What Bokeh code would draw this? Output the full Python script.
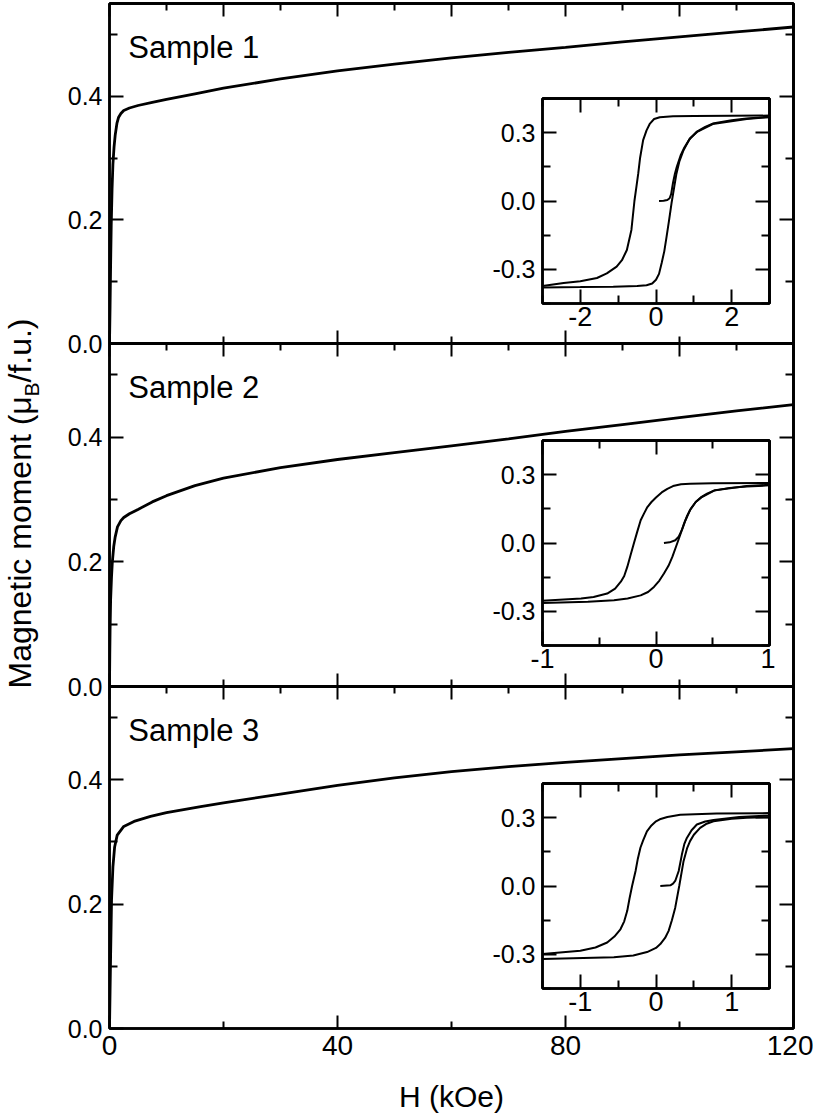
import math
from bokeh.plotting import figure
from bokeh.models import Range1d, FixedTicker, LinearAxis, Label, PrintfTickFormatter
from bokeh.layouts import column
from bokeh.embed import file_html
from bokeh.resources import INLINE

# ---------------- data ----------------
# main panels: H (kOe) vs magnetic moment (muB/f.u.)
H1 = [0, 0.1, 0.2, 0.3, 0.45, 0.6, 0.8, 1.0, 1.3, 1.6, 2.0, 2.5, 3.5, 5, 7.5, 10, 15, 20, 30, 40, 50, 60, 70, 80, 90, 100, 110, 120]
M1 = [0, 0.06, 0.13, 0.19, 0.25, 0.29, 0.318, 0.337, 0.356, 0.366, 0.372, 0.377, 0.381, 0.385, 0.39, 0.395, 0.404, 0.413, 0.428, 0.441, 0.452, 0.462, 0.471, 0.479, 0.488, 0.496, 0.504, 0.512]

H2 = [0, 0.05, 0.1, 0.2, 0.35, 0.5, 0.75, 1.0, 1.4, 2, 2.5, 3.5, 5, 7.5, 10, 15, 20, 30, 40, 50, 60, 70, 80, 90, 100, 110, 120]
M2 = [0, 0.05, 0.09, 0.14, 0.175, 0.2, 0.225, 0.24, 0.256, 0.266, 0.271, 0.277, 0.284, 0.296, 0.306, 0.322, 0.334, 0.351, 0.364, 0.375, 0.386, 0.397, 0.409, 0.42, 0.431, 0.442, 0.452]

H3 = [0, 0.1, 0.2, 0.36, 0.6, 0.9, 1.35, 2.5, 4.3, 7.2, 10, 16, 20, 30, 40, 50, 60, 70, 80, 90, 100, 110, 120]
M3 = [0, 0.06, 0.12, 0.207, 0.26, 0.292, 0.311, 0.325, 0.333, 0.341, 0.347, 0.357, 0.363, 0.377, 0.391, 0.403, 0.413, 0.421, 0.428, 0.434, 0.44, 0.445, 0.45]

# insets: hysteresis loops, H (kOe) vs moment (descending, ascending, virgin)
HD1 = [3.0, 2.0, 1.0, 0.45, 0.1, -0.05, -0.16, -0.25, -0.34, -0.42, -0.47, -0.52, -0.57, -0.65, -0.77, -0.9, -1.04, -1.3, -1.56, -2.0, -2.44, -3.0]
MD1 = [0.375, 0.374, 0.373, 0.372, 0.368, 0.36, 0.34, 0.31, 0.267, 0.19, 0.12, 0.06, 0.0, -0.127, -0.215, -0.26, -0.288, -0.318, -0.338, -0.352, -0.36, -0.373]
HA1 = [-3.0, -2.0, -1.13, -0.5, -0.25, -0.1, 0.0, 0.08, 0.15, 0.22, 0.28, 0.35, 0.41, 0.48, 0.54, 0.62, 0.72, 0.88, 1.07, 1.3, 1.5, 2.0, 2.39, 3.0]
MA1 = [-0.38, -0.378, -0.376, -0.373, -0.37, -0.362, -0.346, -0.32, -0.272, -0.22, -0.156, -0.08, -0.01, 0.06, 0.12, 0.175, 0.22, 0.27, 0.303, 0.325, 0.34, 0.355, 0.362, 0.37]
HV1 = [0.08, 0.2, 0.3, 0.36, 0.4, 0.45, 0.5, 0.55, 0.65, 0.75, 0.9, 1.1, 1.5, 2.4, 3.0]
MV1 = [0.0, 0.001, 0.004, 0.012, 0.03, 0.08, 0.12, 0.15, 0.2, 0.235, 0.275, 0.305, 0.338, 0.36, 0.368]

HD2 = [1.0, 0.5, 0.3, 0.22, 0.15, 0.1, 0.05, 0.0, -0.04, -0.076, -0.105, -0.135, -0.165, -0.194, -0.225, -0.253, -0.28, -0.31, -0.36, -0.43, -0.55, -0.66, -1.0]
MD2 = [0.263, 0.262, 0.26, 0.258, 0.25, 0.238, 0.222, 0.2, 0.18, 0.158, 0.13, 0.1, 0.05, 0.0, -0.055, -0.105, -0.145, -0.17, -0.2, -0.222, -0.237, -0.244, -0.254]
HA2 = [-1.0, -0.6, -0.37, -0.25, -0.135, -0.07, -0.018, 0.03, 0.07, 0.11, 0.144, 0.188, 0.22, 0.247, 0.275, 0.306, 0.35, 0.394, 0.45, 0.51, 0.65, 0.8, 1.0]
MA2 = [-0.263, -0.258, -0.251, -0.244, -0.23, -0.215, -0.193, -0.165, -0.134, -0.1, -0.061, 0.0, 0.045, 0.085, 0.12, 0.15, 0.18, 0.2, 0.217, 0.23, 0.242, 0.248, 0.253]
HV2 = [0.07, 0.12, 0.17, 0.2, 0.23, 0.26, 0.3, 0.35, 0.4, 0.52, 0.8, 1.0]
MV2 = [0.0, 0.003, 0.012, 0.028, 0.06, 0.1, 0.145, 0.18, 0.2, 0.232, 0.25, 0.256]

HD3 = [1.5, 0.8, 0.32, 0.15, 0.05, 0.0, -0.06, -0.12, -0.17, -0.206, -0.24, -0.27, -0.316, -0.35, -0.38, -0.42, -0.47, -0.55, -0.645, -0.8, -1.0, -1.5]
MD3 = [0.32, 0.318, 0.313, 0.303, 0.293, 0.284, 0.266, 0.24, 0.2, 0.168, 0.12, 0.066, 0.0, -0.055, -0.109, -0.155, -0.19, -0.222, -0.248, -0.27, -0.284, -0.299]
HA3 = [-1.5, -0.557, -0.3, -0.118, 0.0, 0.057, 0.12, 0.167, 0.21, 0.254, 0.307, 0.364, 0.41, 0.45, 0.5, 0.583, 0.66, 0.76, 1.0, 1.2, 1.5]
MA3 = [-0.32, -0.313, -0.305, -0.29, -0.272, -0.255, -0.228, -0.197, -0.15, -0.095, 0.0, 0.109, 0.165, 0.197, 0.225, 0.255, 0.272, 0.284, 0.295, 0.3, 0.302]
HV3 = [0.057, 0.19, 0.225, 0.254, 0.3, 0.342, 0.375, 0.408, 0.47, 0.54, 0.65, 0.76, 1.1, 1.5]
MV3 = [0.0, 0.003, 0.01, 0.022, 0.066, 0.138, 0.185, 0.211, 0.245, 0.27, 0.283, 0.29, 0.303, 0.31]

SAMPLE_NAMES = ["Sample 1", "Sample 2", "Sample 3"]
X_LABEL = "H (kOe)"
Y_LABEL_PARTS = ["Magnetic moment (\u03bc", "B", "/f.u.)"]

MAIN_X_MAJOR = [0, 40, 80, 120]
MAIN_X_MINOR = [20, 60, 100]
MAIN_TOP_MAJOR = [0, 20, 40, 60, 80, 100, 120]
MAIN_TOP_MINOR = [10, 30, 50, 70, 90, 110]
MAIN_Y_MAJOR = [0.0, 0.2, 0.4]
MAIN_Y_MINOR = [0.1, 0.3, 0.5]

INSET_Y_MAJOR = [-0.3, 0.0, 0.3]
INSET_Y_MINOR = [-0.45, -0.15, 0.15, 0.45]
INSET_X = [
    ((-3, 3), [-2, 0, 2], [-3, -1, 1, 3]),
    ((-1, 1), [-1, 0, 1], [-0.5, 0.5]),
    ((-1.5, 1.5), [-1, 0, 1], [-1.5, -0.5, 0.5, 1.5]),
]

FONT = "Liberation Sans"


def style_axis(ax, major_in, minor_in, size="0px", standoff=0):
    ax.axis_line_width = 2.5
    ax.axis_line_color = "black"
    ax.major_tick_line_width = 2
    ax.minor_tick_line_width = 2
    ax.major_tick_line_color = "black"
    ax.minor_tick_line_color = "black"
    ax.major_tick_in = major_in
    ax.major_tick_out = 0
    ax.minor_tick_in = minor_in
    ax.minor_tick_out = 0
    ax.major_label_text_font = FONT
    ax.major_label_text_color = "black"
    ax.major_label_text_font_size = size
    ax.major_label_standoff = standoff


def tick_only(p, side, long_ticks, short_ticks, long_in, short_in):
    # unlabelled tick sides: two label-free axes drawn on the same edge
    for ticks, length in ((long_ticks, long_in), (short_ticks, short_in)):
        ax = LinearAxis(ticker=FixedTicker(ticks=[], minor_ticks=ticks))
        style_axis(ax, 0, length)
        p.add_layout(ax, side)


def bare_figure(w, h, xr, yr, ml, mr, mt, mb):
    p = figure(width=w, height=h, x_range=xr, y_range=yr,
               output_backend="svg", toolbar_location=None,
               x_axis_location=None, y_axis_location=None,
               min_border_left=ml, min_border_right=mr,
               min_border_top=mt, min_border_bottom=mb)
    p.background_fill_color = None
    p.border_fill_color = None
    p.grid.visible = False
    return p


def main_panel(H, M, name, mb_top, frame_h, mb_bottom, show_x):
    p = bare_figure(813, mb_top + frame_h + mb_bottom, Range1d(0, 120), Range1d(0, 0.55),
                    109, 20, mb_top, mb_bottom)
    p.outline_line_color = "black"
    p.outline_line_width = 2.5

    left = LinearAxis(ticker=FixedTicker(ticks=MAIN_Y_MAJOR, minor_ticks=MAIN_Y_MINOR),
                      formatter=PrintfTickFormatter(format="%.1f"))
    style_axis(left, 14, 8, "25px", 7)
    p.add_layout(left, "left")
    tick_only(p, "right", MAIN_Y_MAJOR, MAIN_Y_MINOR, 14, 8)
    tick_only(p, "above", MAIN_TOP_MAJOR, MAIN_TOP_MINOR, 13, 7)
    if show_x:
        bottom = LinearAxis(ticker=FixedTicker(ticks=MAIN_X_MAJOR, minor_ticks=MAIN_X_MINOR),
                            formatter=PrintfTickFormatter(format="%d"))
        style_axis(bottom, 13, 7, "28px", 7)
        p.add_layout(bottom, "below")
    else:
        tick_only(p, "below", MAIN_X_MAJOR, MAIN_X_MINOR, 13, 7)

    p.line(H, M, line_color="black", line_width=2.8)
    p.add_layout(Label(x=3.3, y=0.479, text=name, text_font=FONT, text_font_size="31px",
                       text_baseline="alphabetic", text_align="left", text_color="black"))
    return p


def inset_panel(k, branches):
    (x0, x1), xmaj, xmin = INSET_X[k]
    p = bare_figure(60 + 227 + 6, 6 + 205 + 40, Range1d(x0, x1), Range1d(-0.45, 0.45),
                    60, 6, 6, 40)
    p.background_fill_color = "white"
    p.outline_line_color = "black"
    p.outline_line_width = 2.5

    left = LinearAxis(ticker=FixedTicker(ticks=INSET_Y_MAJOR, minor_ticks=INSET_Y_MINOR),
                      formatter=PrintfTickFormatter(format="%.1f"))
    style_axis(left, 14, 8, "25px", 7)
    p.add_layout(left, "left")
    bottom = LinearAxis(ticker=FixedTicker(ticks=xmaj, minor_ticks=xmin),
                        formatter=PrintfTickFormatter(format="%d"))
    style_axis(bottom, 14, 8, "27px", 3)
    p.add_layout(bottom, "below")
    tick_only(p, "right", INSET_Y_MAJOR, INSET_Y_MINOR, 14, 8)
    tick_only(p, "above", xmaj, xmin, 14, 8)

    for hx, my in branches:
        p.line(hx, my, line_color="black", line_width=2)
    return p


# page-sized layer holding the two axis titles (pixel coordinates)
titles = bare_figure(812, 1117, Range1d(0, 812), Range1d(1117, 0), 0, 0, 0, 0)
titles.outline_line_color = None
titles.add_layout(Label(x=19, y=688, text=Y_LABEL_PARTS[0], angle=math.pi / 2,
                        text_font=FONT, text_font_size="32px", text_align="left",
                        text_baseline="alphabetic", text_color="black"))
titles.add_layout(Label(x=31, y=396, text=Y_LABEL_PARTS[1], angle=math.pi / 2,
                        text_font=FONT, text_font_size="21px", text_align="left",
                        text_baseline="alphabetic", text_color="black"))
titles.add_layout(Label(x=19, y=382, text=Y_LABEL_PARTS[2], angle=math.pi / 2,
                        text_font=FONT, text_font_size="32px", text_align="left",
                        text_baseline="alphabetic", text_color="black"))
titles.add_layout(Label(x=451, y=1096, text=X_LABEL,
                        text_font=FONT, text_font_size="30px", text_align="center",
                        text_baseline="alphabetic", text_color="black"))

f1 = main_panel(H1, M1, SAMPLE_NAMES[0], 3, 340, 16, False)
f2 = main_panel(H2, M2, SAMPLE_NAMES[1], 10, 343, 16, False)
f3 = main_panel(H3, M3, SAMPLE_NAMES[2], 10, 342, 60, True)

i1 = inset_panel(0, [(HD1, MD1), (HA1, MA1), (HV1, MV1)])
i2 = inset_panel(1, [(HD2, MD2), (HA2, MA2), (HV2, MV2)])
i3 = inset_panel(2, [(HD3, MD3), (HA3, MA3), (HV3, MV3)])


def placed(fig, left, top):
    box = column(fig)
    box.styles = {"position": "absolute", "left": f"{left}px", "top": f"{top}px"}
    return box


root = column(
    placed(titles, 0, 0),
    placed(f1, 0, 0),
    placed(f2, 0, 333),
    placed(f3, 0, 676),
    placed(i1, 482, 92),
    placed(i2, 482, 434),
    placed(i3, 482, 777),
    width=817, height=1117, sizing_mode="fixed",
)
root.styles = {"position": "absolute", "left": "0px", "top": "0px"}

open("out.html", "w").write(file_html(root, INLINE))
